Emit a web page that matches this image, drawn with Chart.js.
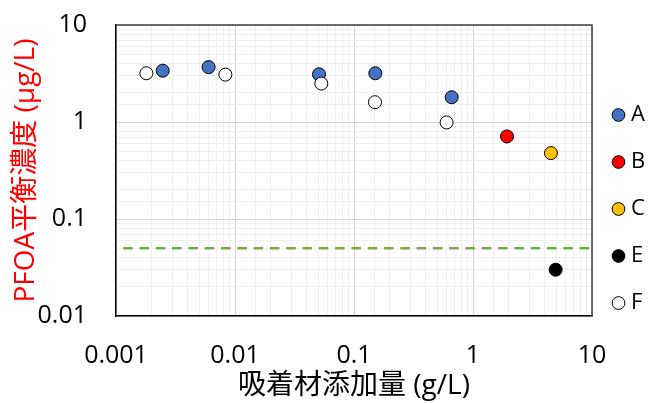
<!DOCTYPE html>
<html>
<head>
<meta charset="utf-8">
<script src="https://cdn.jsdelivr.net/npm/chart.js@4"></script>
<style>
  html, body { margin: 0; padding: 0; background: #fff; }
  .ShowChartWrapper { width: 649px; height: 403px; }
</style>
</head>
<body>
<div class="ShowChartWrapper"><canvas id="showChart" width="649" height="403"></canvas></div>
<script>
// data
var seriesNames = ["A", "B", "C", "E", "F"];
var doseA = [0.00247, 0.0060, 0.0508, 0.151, 0.662];
var concA = [3.38, 3.68, 3.10, 3.18, 1.80];
var doseB = [1.93];
var concB = [0.71];
var doseC = [4.52];
var concC = [0.478];
var doseE = [4.95];
var concE = [0.030];
var doseF = [0.0018, 0.0083, 0.0531, 0.150, 0.600];
var concF = [3.18, 3.08, 2.49, 1.60, 0.99];
var limitX = [0.00115, 10];
var limitY = [0.05, 0.05];
var xTicks = [0.001, 0.01, 0.1, 1, 10];
var yTicks = [0.01, 0.1, 1, 10];

var fontFamily = "'Open Sans', 'Noto Sans CJK JP', sans-serif";

function pts(xs, ys) {
    return xs.map(function (x, i) { return { x: x, y: ys[i] }; });
}

function isDecade(v) {
    var l = Math.log10(v);
    return Math.abs(l - Math.round(l)) < 1e-6;
}

function tickLabel(list) {
    return function (value) {
        for (var i = 0; i < list.length; i++) {
            if (Math.abs(Math.log10(value) - Math.log10(list[i])) < 1e-6) return String(list[i]);
        }
        return '';
    };
}

function gridColor(ctx) {
    if (!ctx.tick) return '#f0f0f0';
    return isDecade(ctx.tick.value) ? '#d4d4d4' : '#efefef';
}

function dot(label, data, color, order) {
    return {
        label: label,
        data: data,
        backgroundColor: color,
        borderColor: '#000',
        borderWidth: 1,
        pointRadius: 6.5,
        pointHoverRadius: 6.5,
        pointStyle: 'circle',
        showLine: false,
        order: order
    };
}

var frame = {
    id: 'frame',
    beforeDatasetsDraw: function (chart) {
        var a = chart.chartArea, c = chart.ctx;
        c.save();
        c.strokeStyle = '#404040';
        c.lineWidth = 1.5;
        c.beginPath();
        c.moveTo(a.left, a.top);
        c.lineTo(a.right, a.top);
        c.lineTo(a.right, a.bottom);
        c.stroke();
        c.restore();
    }
};

var chart = new Chart(document.getElementById('showChart'), {
    type: 'scatter',
    data: {
        datasets: [
            dot(seriesNames[0], pts(doseA, concA), '#4472C4', 4),
            dot(seriesNames[1], pts(doseB, concB), '#FF0000', 3),
            dot(seriesNames[2], pts(doseC, concC), '#FFC000', 2),
            dot(seriesNames[3], pts(doseE, concE), '#000000', 1),
            dot(seriesNames[4], pts(doseF, concF), '#FFFFFF', 0),
            {
                type: 'line',
                label: 'limit',
                data: pts(limitX, limitY),
                borderColor: '#70AD47',
                borderWidth: 2.5,
                borderDash: [9.5, 6.8],
                pointRadius: 0,
                showLine: true,
                fill: false,
                order: 5
            }
        ]
    },
    options: {
        animation: false,
        responsive: false,
        maintainAspectRatio: false,
        layout: { padding: { top: 5, right: 0, bottom: 0, left: 0 } },
        plugins: {
            tooltip: { enabled: false },
            legend: {
                position: 'right',
                maxWidth: 57,
                // empty title only nudges the legend column down a little
                title: { display: true, text: ' ', padding: 0, font: { size: 8, lineHeight: 1.25 } },
                labels: {
                    usePointStyle: true,
                    pointStyle: 'circle',
                    boxWidth: 3,
                    boxHeight: 9,
                    padding: 25,
                    color: '#000',
                    font: { family: fontFamily, size: 22 },
                    filter: function (item) { return item.datasetIndex < 5; },
                    sort: function (a, b) { return a.datasetIndex - b.datasetIndex; }
                }
            }
        },
        scales: {
            x: {
                type: 'logarithmic',
                position: 'bottom',
                min: 0.001,
                max: 10,
                afterFit: function (s) { s.height = 87; },
                grid: { color: gridColor, lineWidth: 1, drawTicks: false },
                border: { color: '#000', width: 1.5 },
                ticks: {
                    autoSkip: false,
                    maxRotation: 0,
                    padding: 25,
                    color: '#000',
                    font: { family: fontFamily, size: 25 },
                    callback: tickLabel(xTicks)
                },
                title: {
                    display: true,
                    text: '吸着材添加量 (g/L)',
                    color: '#000',
                    font: { family: fontFamily, size: 28 },
                    padding: { top: 0, bottom: 0 }
                }
            },
            y: {
                type: 'logarithmic',
                position: 'left',
                min: 0.01,
                max: 10,
                afterFit: function (s) { s.width = 116; },
                grid: { color: gridColor, lineWidth: 1, drawTicks: true, tickLength: 19, tickColor: 'rgba(0,0,0,0)' },
                border: { color: '#000', width: 1.5 },
                ticks: {
                    autoSkip: false,
                    padding: 10,
                    color: '#000',
                    font: { family: fontFamily, size: 25 },
                    callback: tickLabel(yTicks)
                },
                title: {
                    display: true,
                    text: 'PFOA平衡濃度 (μg/L)',
                    color: '#FF0000',
                    font: { family: fontFamily, size: 28 },
                    padding: { top: 9, bottom: 0 }
                }
            }
        }
    },
    plugins: [frame]
});
</script>
</body>
</html>
